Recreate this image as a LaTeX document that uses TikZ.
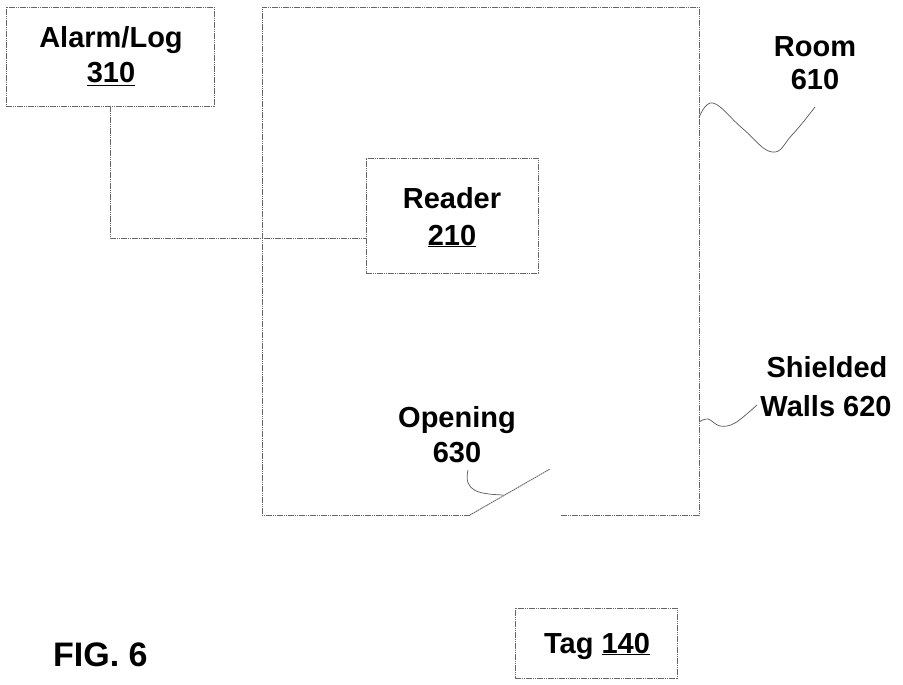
\documentclass[tikz,border=0pt]{standalone}
\usepackage{fontspec}
\setmainfont{Liberation Sans}
\begin{document}
\begin{tikzpicture}[x=1pt,y=-1pt,
  wall/.style={draw=black!60, line width=0.9pt, dash pattern=on 1.6pt off 0.6pt},
  box/.style={wall, rectangle, inner sep=0pt, outer sep=0pt},
  leader/.style={draw=black!65, line width=0.7pt},
  lbl/.style={anchor=base, inner sep=0pt, font=\bfseries\fontsize{29}{35}\selectfont},
  fig/.style={anchor=base west, inner sep=0pt, font=\bfseries\fontsize{34}{40}\selectfont}]
\useasboundingbox (0,0) rectangle (903,685);
\fill[white] (0,0) rectangle (903,685);

% Alarm/Log box
\node[box, minimum width=208pt, minimum height=99pt] (alarm) at (110,56.5) {};
\node[lbl] (alarmt) at (111,48) {Alarm/Log};
\node[lbl] (alarmn) at (111,83) {\underline{310}};

% Room walls
\coordinate (dl) at (470,515);
\coordinate (bl) at (262,515);
\coordinate (tl) at (262,7);
\coordinate (tr) at (699,7);
\coordinate (br) at (699,515);
\coordinate (dr) at (561,515);
\coordinate (dtip) at (550,469);
\draw[wall] (dl) -- (bl) -- (tl) -- (tr) -- (br) -- (dr);
\draw[wall] (dl) -- (dtip);

% Reader box
\node[box, minimum width=172pt, minimum height=115pt] (reader) at (452,215.5) {};
\node[lbl] (readert) at (452,208) {Reader};
\node[lbl] (readern) at (452,245) {\underline{210}};

% connector alarm -> reader
\coordinate (rin) at (reader.west |- 0,238);
\draw[wall] (alarm.south) |- (rin);

% Room label
\node[lbl] (roomt) at (815,57) {Room};
\node[lbl] (roomn) at (815,90) {610};
\coordinate (rl0) at (699,118);
\draw[leader] plot[smooth, tension=0.7] coordinates {(rl0) (713,103) (742,128) (772,152) (792,135) (815,107)};

% Shielded walls label
\node[lbl] (shieldt) at (827,377) {Shielded};
\node[lbl] (shieldn) at (826,416) {Walls 620};
\coordinate (sl0) at (699,422);
\draw[leader] plot[smooth, tension=0.6] coordinates {(sl0) (708,419) (720,426) (735,423) (757,405)};

% Opening label
\node[lbl] (opent) at (457,427) {Opening};
\node[lbl] (openn) at (457,462) {630};
\coordinate (ol0) at (468,470);
\coordinate (ol1) at (503,495);
\draw[leader] (ol0) .. controls (463,492) and (480,494) .. (ol1);

% Tag box
\node[box, minimum width=162pt, minimum height=70pt] (tag) at (596,643) {};
\node[lbl] (tagt) at (597,653) {Tag \underline{140}};

% Figure label
\node[fig] (figl) at (53,666) {FIG. 6};
\end{tikzpicture}
\end{document}
